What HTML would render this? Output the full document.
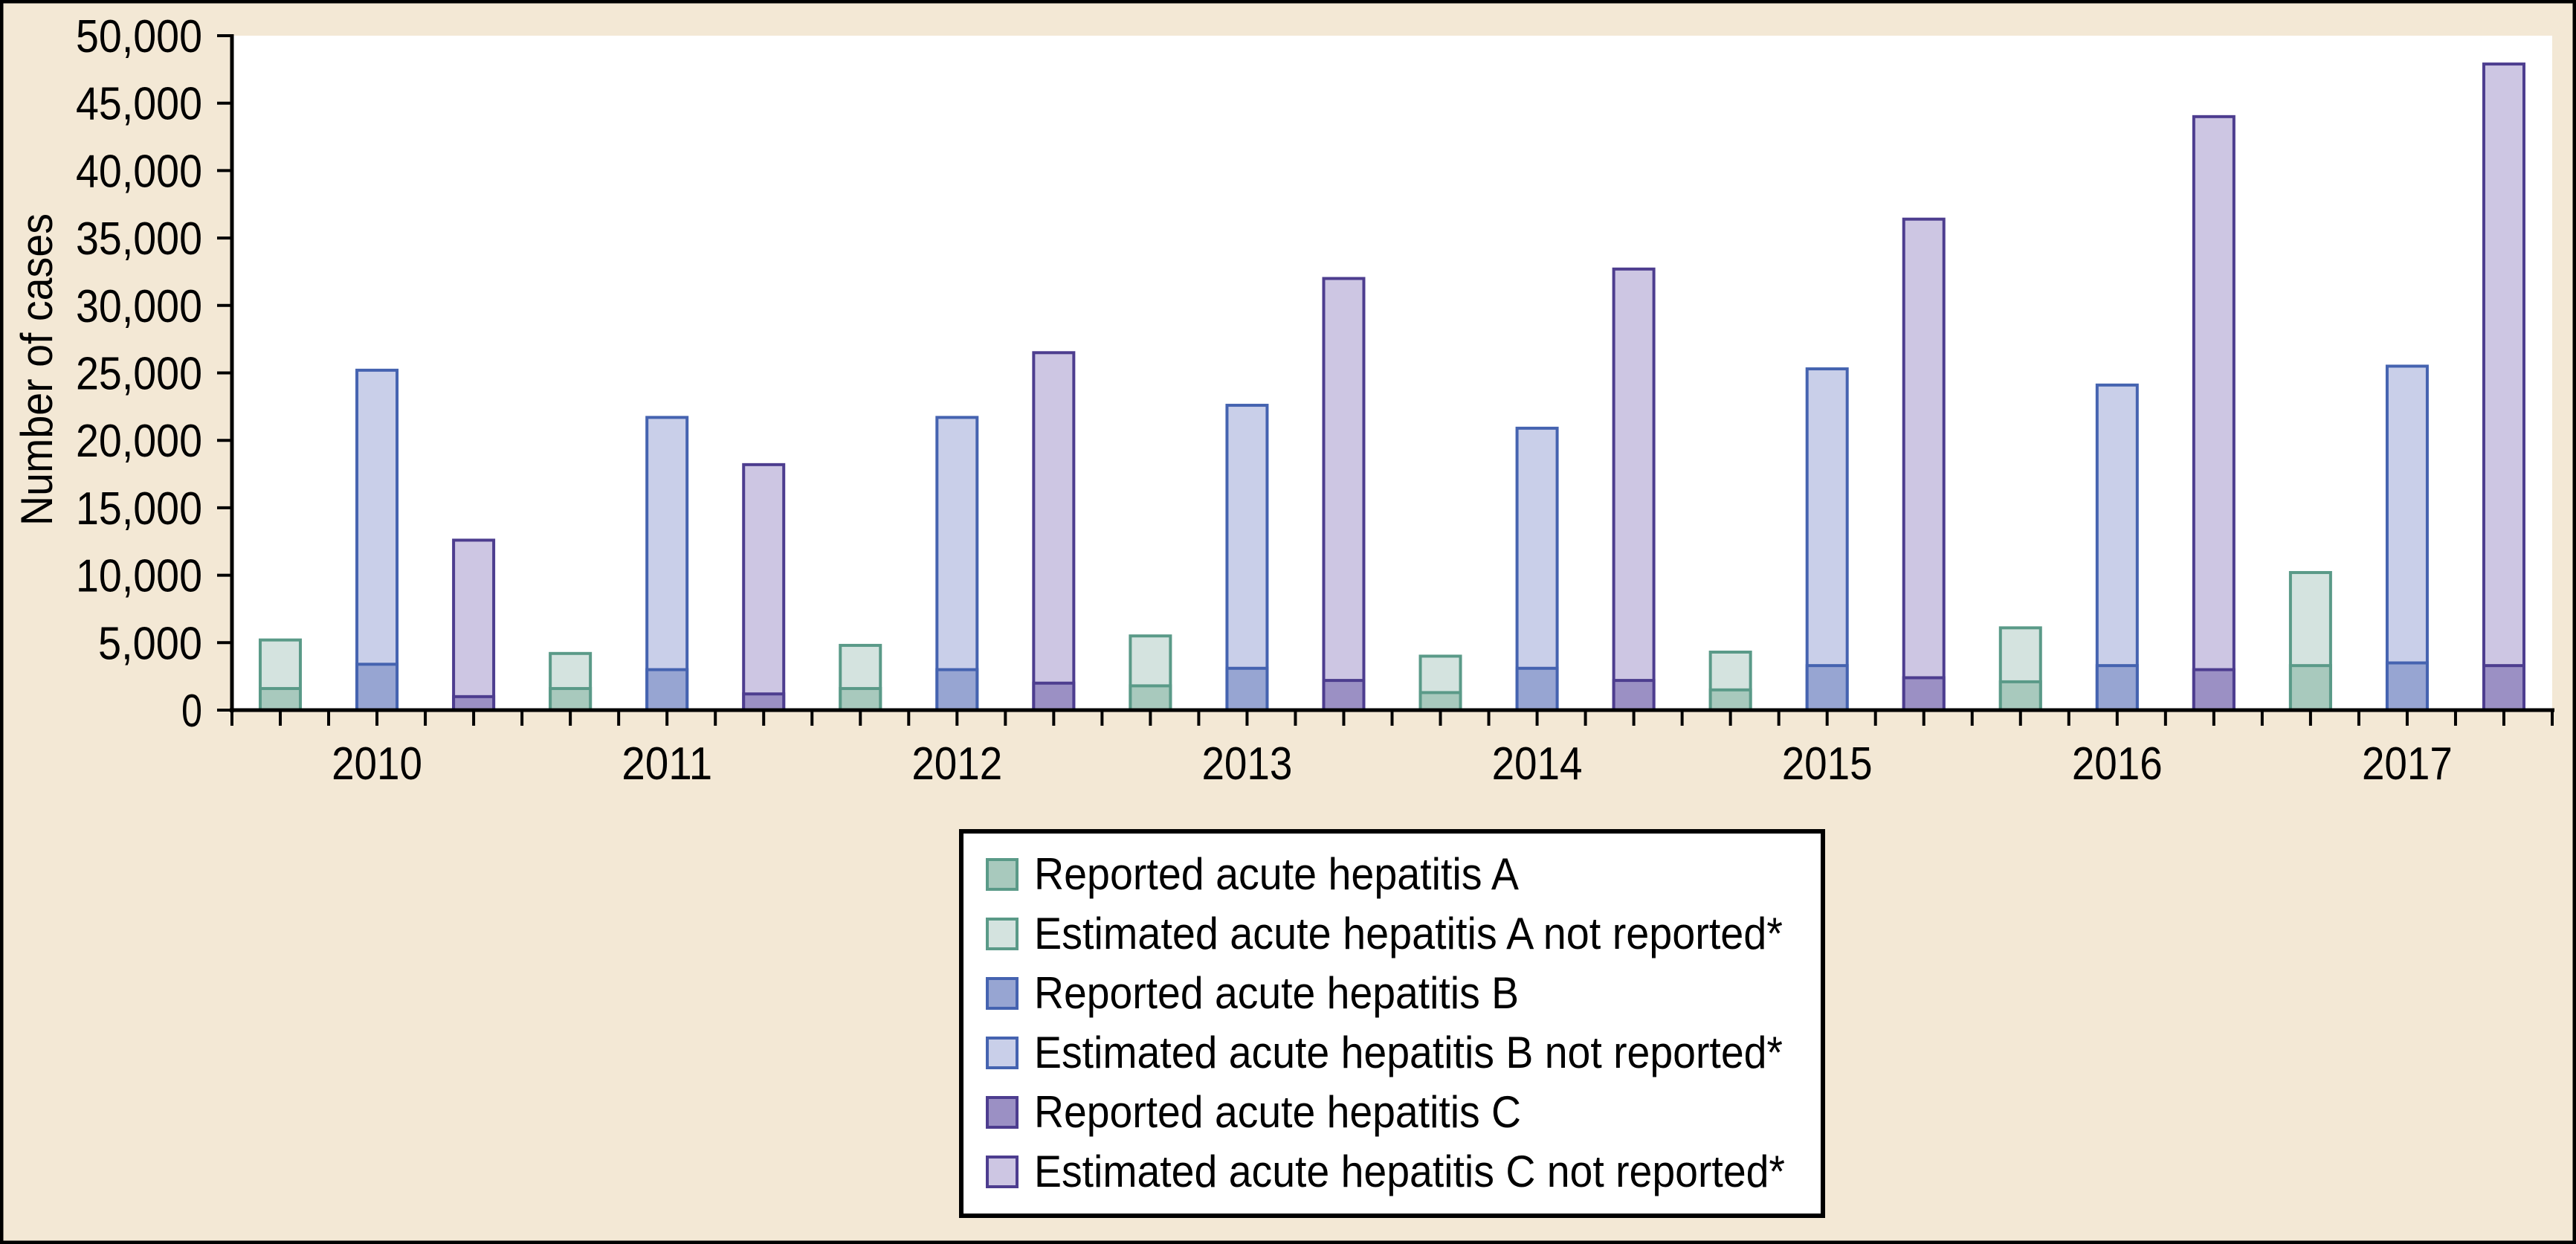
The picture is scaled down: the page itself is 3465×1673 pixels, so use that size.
<!DOCTYPE html>
<html><head><meta charset="utf-8"><style>html,body{margin:0;padding:0;background:#f3e8d5}svg{display:block}</style></head><body>
<svg id="s" width="3465" height="1673" xmlns="http://www.w3.org/2000/svg" font-family="Liberation Sans, Arial, sans-serif">
<rect x="2" y="2" width="3461" height="1669" fill="#f3e8d5" stroke="#000" stroke-width="5"/>
<rect x="312" y="48" width="3121" height="907" fill="#fff"/>
<g id="bars"></g>
<g id="axes" stroke="#000" stroke-width="5" fill="none">
<line x1="312" y1="46" x2="312" y2="958"/>
<line x1="309" y1="955" x2="3436" y2="955"/>
</g>
<g id="ticks" stroke="#000" stroke-width="4"></g>
<g id="labels" font-size="62" fill="#000"></g>
<text transform="translate(70,497) rotate(-90)" font-size="60" text-anchor="middle" textLength="420" lengthAdjust="spacingAndGlyphs">Number of cases</text>
<rect x="1293" y="1118" width="1159" height="517" fill="#fff" stroke="#000" stroke-width="6"/>
<g font-size="60" fill="#000" lengthAdjust="spacingAndGlyphs">
<rect x="1328" y="1156" width="40" height="40" fill="#a8c9bd" stroke="#5a9a88" stroke-width="4"/><text x="1391" y="1196" textLength="652" lengthAdjust="spacingAndGlyphs">Reported acute hepatitis A</text>
<rect x="1328" y="1236" width="40" height="40" fill="#d4e3df" stroke="#5a9a88" stroke-width="4"/><text x="1391" y="1276" textLength="1007" lengthAdjust="spacingAndGlyphs">Estimated acute hepatitis A not reported*</text>
<rect x="1328" y="1316" width="40" height="40" fill="#97a5d2" stroke="#4563b0" stroke-width="4"/><text x="1391" y="1356" textLength="652" lengthAdjust="spacingAndGlyphs">Reported acute hepatitis B</text>
<rect x="1328" y="1396" width="40" height="40" fill="#c9cfe9" stroke="#4563b0" stroke-width="4"/><text x="1391" y="1436" textLength="1007" lengthAdjust="spacingAndGlyphs">Estimated acute hepatitis B not reported*</text>
<rect x="1328" y="1476" width="40" height="40" fill="#9b90c4" stroke="#4d3d8f" stroke-width="4"/><text x="1391" y="1516" textLength="655" lengthAdjust="spacingAndGlyphs">Reported acute hepatitis C</text>
<rect x="1328" y="1556" width="40" height="40" fill="#cdc6e3" stroke="#4d3d8f" stroke-width="4"/><text x="1391" y="1596" textLength="1010" lengthAdjust="spacingAndGlyphs">Estimated acute hepatitis C not reported*</text>
</g>
</svg>
<script>
var NS="http://www.w3.org/2000/svg";
function el(p,t,a,txt){var e=document.createElementNS(NS,t);for(var k in a)e.setAttribute(k,a[k]);if(txt)e.textContent=txt;document.querySelector(p).appendChild(e);}
var y0=955,ppk=18.14;function Y(v){return y0-v/1000*ppk;}
var data=[[5200,1600,25200,3400,12600,1000],[4200,1600,21700,3000,18200,1200],[4800,1600,21700,3000,26500,2000],[5500,1800,22600,3100,32000,2200],[4000,1300,20900,3100,32700,2200],[4300,1500,25300,3300,36400,2400],[6100,2100,24100,3300,44000,3000],[10200,3300,25500,3500,47900,3300]];
var cols=[["#d4e3df","#a8c9bd","#5a9a88"],["#c9cfe9","#97a5d2","#4563b0"],["#cdc6e3","#9b90c4","#4d3d8f"]];
var slot=(3433-312)/48,w=54;
for(var g=0;g<8;g++){for(var s=0;s<3;s++){var cx=312+(g*6+1+2*s)*slot,tot=data[g][2*s],rep=data[g][2*s+1],c=cols[s];
el("#bars","rect",{x:cx-w/2,y:Y(tot),width:w,height:Y(0)-Y(tot),fill:c[0],stroke:c[2],"stroke-width":4});
el("#bars","rect",{x:cx-w/2,y:Y(rep),width:w,height:Y(0)-Y(rep),fill:c[1],stroke:c[2],"stroke-width":4});}
el("#labels","text",{x:312+(g*6+3)*slot,y:1048,"text-anchor":"middle",textLength:122,lengthAdjust:"spacingAndGlyphs"},String(2010+g));}
for(var i=0;i<=48;i++){var x=312+i*slot;el("#ticks","line",{x1:x,y1:955,x2:x,y2:976});}
for(var v=0;v<=50000;v+=5000){var y=Y(v);el("#ticks","line",{x1:292,y1:y,x2:312,y2:y});
var t=v==0?"0":(v/1000)+",000";
el("#labels","text",{x:272,y:y+22,"text-anchor":"end",textLength:t.length==1?28:(t.length==5?140:170),lengthAdjust:"spacingAndGlyphs"},t);}
</script>
</body></html>
